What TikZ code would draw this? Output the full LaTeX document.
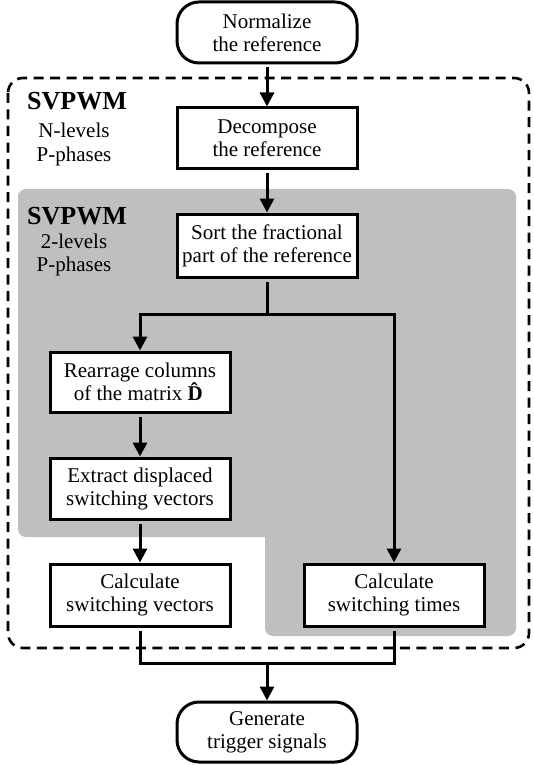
\documentclass[tikz,border=0pt]{standalone}
\usepackage{fontspec}
\setmainfont{Liberation Serif}
\usetikzlibrary{arrows.meta}
\begin{document}
\begin{tikzpicture}[x=1pt,y=-1pt,
  every node/.style={font=\fontsize{21}{23}\selectfont},
  box/.style={draw, line width=3pt, fill=white, minimum width=180pt, align=center, inner sep=2pt},
  rbox/.style={box, rounded corners=22pt},
  lab/.style={inner sep=0pt, anchor=base},
  big/.style={inner sep=0pt, anchor=base, font=\fontsize{26}{28}\selectfont\bfseries},
  conn/.style={line width=3pt},
  arr/.style={conn, -{Triangle[width=14pt,length=14pt]}, shorten <=3pt}]
\useasboundingbox (0,0) rectangle (534,765);
% dashed frame
\draw[line width=2.6pt, dash pattern=on 10pt off 6.5pt, rounded corners=15pt] (8,78) rectangle (529,648);
% gray region
\fill[black!25] (18,197) [rounded corners=8pt] -- (18,189) -- (516,189) -- (516,636) -- (265,636) [sharp corners] -- (265,537) [rounded corners=8pt] -- (18,537) -- cycle;
% labels
\node[big] (s1) at (77,110) {SVPWM};
\node[lab] (n1) at (74,138) {N-levels};
\node[lab] (p1) at (74,161) {P-phases};
\node[big] (s2) at (77,224) {SVPWM};
\node[lab] (n2) at (74,248) {2-levels};
\node[lab] (p2) at (74,271) {P-phases};
% nodes
\node[rbox, minimum height=61pt] (norm) at (267,32.5) {Normalize\\the reference};
\node[box, minimum height=60pt] (dec) at (267,138) {Decompose\\the reference};
\node[box, minimum height=63pt] (sort) at (267,245.5) {Sort the fractional\\part of the reference};
\node[box, minimum height=60pt] (rea) at (140,382) {Rearrage columns\\of the matrix \textbf{\^{D}}};
\node[box, minimum height=61pt] (ext) at (140,488.5) {Extract displaced\\switching vectors};
\node[box, minimum height=62pt] (cv) at (140,595) {Calculate\\switching vectors};
\node[box, minimum height=62pt] (ct) at (394,595) {Calculate\\switching times};
\node[rbox, minimum height=60pt] (gen) at (267,732) {Generate\\trigger signals};
% connectors
\coordinate (split) at (267,314);
\coordinate (merge) at (267,663);
\draw[arr] (norm) -- (dec);
\draw[arr] (dec) -- (sort);
\draw[conn, shorten <=3pt] (sort) -- (split);
\draw[arr, shorten <=0pt] (split) -| (rea);
\draw[arr, shorten <=0pt] (split) -| (ct);
\draw[arr] (rea) -- (ext);
\draw[arr] (ext) -- (cv);
\draw[conn, shorten <=3pt] (cv) |- (merge);
\draw[conn, shorten <=3pt] (ct) |- (merge);
\draw[arr, shorten <=0pt] (merge) -- (gen);
\end{tikzpicture}
\end{document}
